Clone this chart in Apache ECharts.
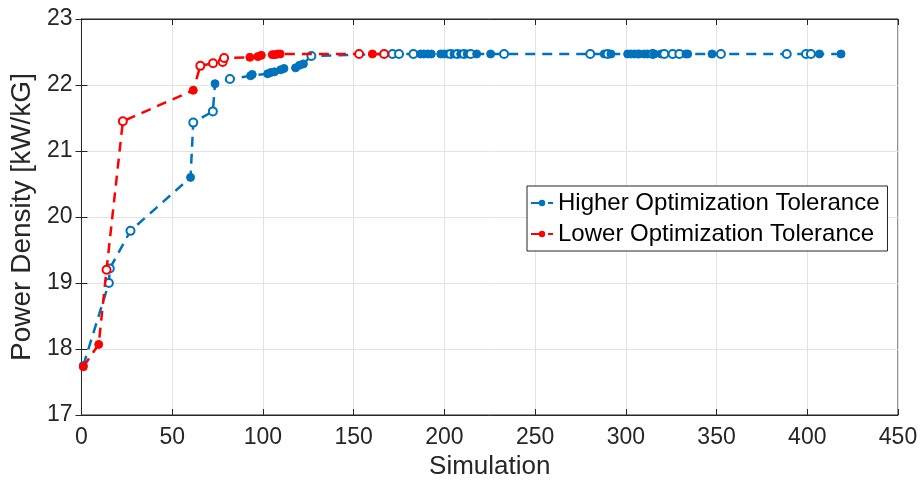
<!DOCTYPE html>
<html>
<head>
<meta charset="utf-8">
<script src="https://cdn.jsdelivr.net/npm/echarts@6/dist/echarts.min.js"></script>
<style>html,body{margin:0;padding:0;background:#fff}#c{width:922px;height:495px}</style>
</head>
<body>
<div id="c"></div>
<script>
// Higher Optimization Tolerance (blue)
const blueX = [1, 15.1, 15.6, 27, 60.1, 61.6, 72.4, 73.6, 81.8, 93.2, 94.1, 102.6, 104.4, 106.4, 109.8, 111.6, 118, 120.2, 122.3, 126.7,
  166.8, 171.4, 175, 182.9, 186.9, 188.7, 190.9, 192.8, 198, 199.8, 201.6, 203.4, 205.3, 207.1, 209, 210.8, 212.6, 214.5, 217.8, 225.5, 232.9,
  280.4, 288.1, 290, 291.8, 301, 302.8, 304.6, 306.5, 307.4, 310.2, 312, 314.8, 315.7, 319.4, 321.2, 325.8, 329.5, 333.1, 334.1, 347.5, 352.4,
  388.7, 399.3, 402, 406.7, 418.6];
const blueY = [17.75, 19.0, 19.22, 19.79, 20.6, 21.43, 21.6, 22.02, 22.09, 22.14, 22.16, 22.17, 22.19, 22.2, 22.23, 22.25, 22.26, 22.3, 22.32, 22.44,
  22.47, 22.47, 22.47, 22.47, 22.47, 22.47, 22.47, 22.47, 22.47, 22.47, 22.47, 22.47, 22.47, 22.47, 22.47, 22.47, 22.47, 22.47, 22.47, 22.47, 22.47,
  22.47, 22.47, 22.47, 22.47, 22.47, 22.47, 22.47, 22.47, 22.47, 22.47, 22.47, 22.47, 22.47, 22.47, 22.47, 22.47, 22.47, 22.47, 22.47, 22.47, 22.47,
  22.47, 22.47, 22.47, 22.47, 22.47];
const blueHollow = [0, 1, 1, 1, 0, 1, 1, 0, 1, 0, 0, 0, 0, 0, 0, 0, 0, 0, 0, 1,
  0, 1, 1, 1, 0, 0, 0, 0, 0, 0, 0, 1, 0, 1, 0, 1, 0, 1, 0, 0, 1,
  1, 0, 1, 0, 0, 0, 0, 0, 0, 0, 0, 1, 0, 0, 1, 1, 1, 0, 0, 0, 1,
  1, 1, 1, 0, 0];

// Lower Optimization Tolerance (red)
const redX = [1, 9.5, 13.8, 22.8, 61.6, 65.5, 72.5, 77.8, 78.6, 92.8, 97.2, 99.1, 105.2, 106.6, 108.3, 109.5, 153, 160.3, 166.8];
const redY = [17.73, 18.07, 19.2, 21.45, 21.92, 22.29, 22.33, 22.35, 22.41, 22.42, 22.43, 22.45, 22.46, 22.46, 22.47, 22.47, 22.47, 22.47, 22.47];
const redHollow = [0, 0, 1, 1, 0, 1, 1, 1, 1, 0, 0, 0, 0, 0, 0, 0, 1, 0, 1];

const xTicks = {min: 0, max: 450, interval: 50};
const yTicks = {min: 17, max: 23, interval: 1};

const BLUE = '#0072BD', RED = '#FF0000';
const FONT = 'Liberation Sans';

function build(xs, ys, hs, color) {
  return xs.map((x, i) => ({
    value: [x, ys[i]],
    itemStyle: hs[i] ? {color: '#ffffff', borderColor: color, borderWidth: 2} : {color: color, borderColor: color, borderWidth: 1}
  }));
}

function mkSeries(name, data, color, z) {
  return {
    name: name, type: 'line', data: data, z: z,
    symbol: 'circle', symbolSize: 8, showAllSymbol: true,
    lineStyle: {color: color, width: 2.5, type: [10, 7]},
    itemStyle: {color: color, borderColor: color},
    emphasis: {disabled: true}, animation: false
  };
}

const chart = echarts.init(document.getElementById('c'), null, {renderer: 'canvas'});
const axisLine = {show: true, lineStyle: {color: '#262626', width: 1}};
chart.setOption({
  backgroundColor: '#ffffff',
  animation: false,
  grid: {left: 81, right: 24, top: 19, bottom: 80, show: true, borderColor: '#262626', borderWidth: 1},
  legend: {
    left: 527, top: 186, orient: 'vertical',
    backgroundColor: '#ffffff', borderColor: '#262626', borderWidth: 1,
    padding: [5, 8, 5, 3], itemGap: 7, itemWidth: 22, itemHeight: 8,
    textStyle: {fontFamily: FONT, fontSize: 24, color: '#000'},
    data: ['Higher Optimization Tolerance', 'Lower Optimization Tolerance']
  },
  xAxis: [{
    type: 'value', min: xTicks.min, max: xTicks.max, interval: xTicks.interval,
    name: 'Simulation', nameLocation: 'middle', nameGap: 38,
    nameTextStyle: {fontFamily: FONT, fontSize: 26, color: '#262626'},
    axisLine: axisLine, axisTick: {show: true, inside: true, length: 6, lineStyle: {color: '#262626'}},
    axisLabel: {fontFamily: FONT, fontSize: 23, color: '#262626', margin: 11},
    splitLine: {show: true, lineStyle: {color: '#e3e3e3', width: 1}}
  }, {
    type: 'value', position: 'top', min: xTicks.min, max: xTicks.max, interval: xTicks.interval,
    axisLine: axisLine, axisTick: {show: true, inside: true, length: 6, lineStyle: {color: '#262626'}},
    axisLabel: {show: false}, splitLine: {show: false}
  }],
  yAxis: [{
    type: 'value', min: yTicks.min, max: yTicks.max, interval: yTicks.interval,
    name: 'Power Density [kW/kG]', nameLocation: 'middle', nameGap: 43,
    nameTextStyle: {fontFamily: FONT, fontSize: 28, color: '#262626'},
    axisLine: axisLine, axisTick: {show: true, inside: true, length: 6, lineStyle: {color: '#262626'}},
    axisLabel: {fontFamily: FONT, fontSize: 23, color: '#262626', margin: 9},
    splitLine: {show: true, lineStyle: {color: '#e3e3e3', width: 1}}
  }, {
    type: 'value', position: 'right', min: yTicks.min, max: yTicks.max, interval: yTicks.interval,
    axisLine: axisLine, axisTick: {show: true, inside: true, length: 6, lineStyle: {color: '#262626'}},
    axisLabel: {show: false}, splitLine: {show: false}
  }],
  series: [
    mkSeries('Higher Optimization Tolerance', build(blueX, blueY, blueHollow, BLUE), BLUE, 2),
    mkSeries('Lower Optimization Tolerance', build(redX, redY, redHollow, RED), RED, 3)
  ]
});
</script>
</body>
</html>
